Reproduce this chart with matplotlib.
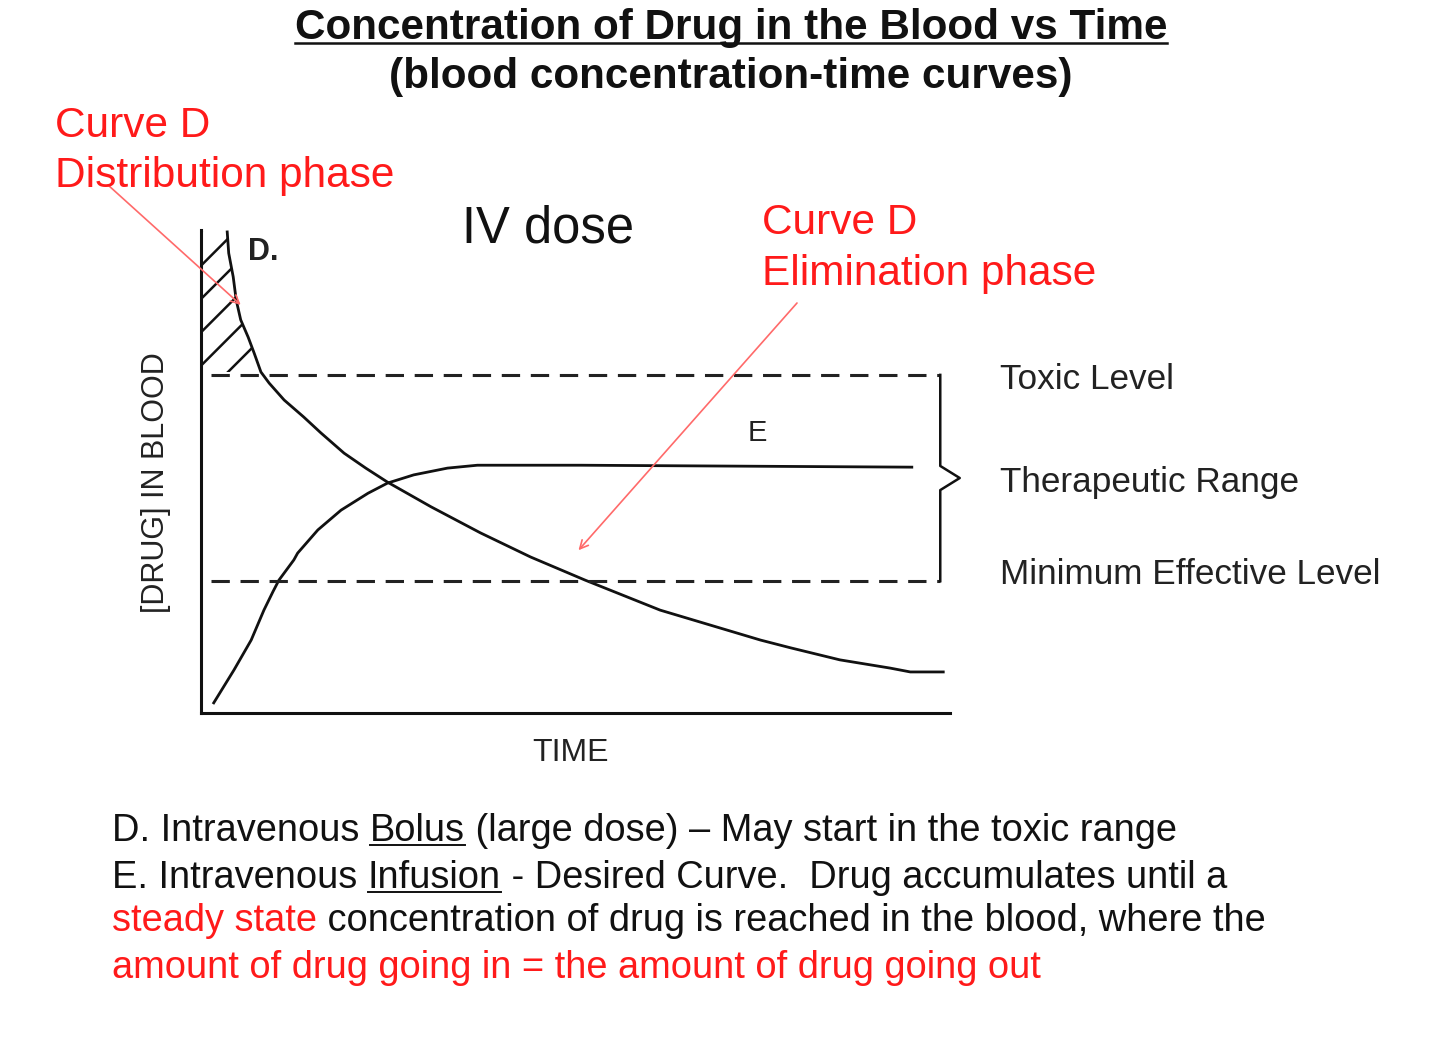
import matplotlib
matplotlib.use('Agg')
import matplotlib.pyplot as plt
from matplotlib.lines import Line2D

plt.rcParams['font.family'] = ['Liberation Sans', 'DejaVu Sans']
plt.rcParams['hatch.linewidth'] = 1.8

# ---- data (time and concentration, both in % of the axis range) ----
TOXIC = 70.0
MEC = 27.3

# curve D: IV bolus
d_time = [3.5, 3.7, 4.3, 4.7, 5.3, 6.3, 7.1, 8.0, 9.1, 11.1, 13.7, 16.0, 19.1, 22.0,
          24.9, 30.7, 37.3, 44.0, 51.3, 61.3, 68.0, 74.7, 78.7, 85.3, 92.0, 94.7, 99.1]
d_conc = [99.6, 95.2, 90.3, 85.5, 81.4, 77.8, 74.5, 70.6, 68.3, 64.8, 61.3, 58.0, 53.8, 50.7,
          47.8, 42.7, 37.3, 32.3, 27.5, 21.3, 18.2, 15.1, 13.5, 11.0, 9.3, 8.5, 8.5]

# curve E: IV infusion
e_time = [1.7, 4.4, 6.7, 8.4, 9.6, 10.4, 12.4, 12.9, 15.6, 18.7, 22.3, 24.9,
          28.4, 32.9, 36.9, 50.7, 94.9]
e_conc = [2.1, 8.9, 15.1, 21.3, 25.1, 27.5, 31.7, 33.1, 37.9, 42.0, 45.5, 47.6,
          49.3, 50.7, 51.3, 51.3, 50.9]

level_labels = ['Toxic Level', 'Therapeutic Range', 'Minimum Effective Level']
level_label_y = [69.0, 47.8, 28.6]

W, H, DPI = 1440, 1056, 100
RED = '#ff1a1a'
INK = '#111111'
GREY = '#222222'


def fx(x):
    return x / W


def fy(y):
    return 1 - y / H


fig = plt.figure(figsize=(W / DPI, H / DPI), dpi=DPI)
ax = fig.add_axes([fx(201), fy(713), 749 / W, 483 / H])
ax.set_xlim(0, 100)
ax.set_ylim(0, 100)
for side in ['top', 'right']:
    ax.spines[side].set_visible(False)
for side in ['left', 'bottom']:
    ax.spines[side].set_linewidth(2.2)
    ax.spines[side].set_color(INK)
ax.set_xticks([])
ax.set_yticks([])
ax.patch.set_alpha(0)

# hatched area: curve D above the toxic level
n_top = len([c for c in d_conc if c >= TOXIC])
ax.fill_betweenx(d_conc[:n_top], 0, d_time[:n_top], facecolor='none',
                 edgecolor=INK, hatch='/', linewidth=0)

ax.plot(d_time, d_conc, color=INK, lw=2.0)
ax.plot(e_time, e_conc, color=INK, lw=2.0)

# levels and bracket
BR = 98.7
for lev in [TOXIC, MEC]:
    ax.plot([1.3, BR], [lev, lev], color=GREY, lw=2.2, dashes=(6, 3.5))
mid = (TOXIC + MEC) / 2
ax.plot([BR, BR, BR + 2.6, BR, BR], [TOXIC, mid + 2.5, mid, mid - 2.5, MEC],
        color=INK, lw=1.8, clip_on=False)

for lab, y in zip(level_labels, level_label_y):
    ax.text(106.7, y, lab, fontsize=25.3, color=GREY, va='center', ha='left')

ax.text(6.3, 95.4, 'D.', fontsize=22, fontweight='bold', color=GREY, va='center')
ax.text(74.3, 58.0, 'E', fontsize=21, color=GREY, va='center', ha='center')
ax.text(46.3, 100.3, 'IV dose', fontsize=36.5, color=INK, va='center', ha='center')
ax.text(-6.0, 47.8, '[DRUG] IN BLOOD', fontsize=22, color=GREY,
        rotation=90, va='center', ha='center')
ax.text(49.3, -8.3, 'TIME', fontsize=23, color=GREY, va='center', ha='center')

# red annotations
arrow = dict(arrowstyle='->', color='#ff6a6a', lw=1.2, shrinkA=0, shrinkB=0,
             mutation_scale=15)
ax.annotate('', xy=(5.3, 84.5), xytext=(fx(108), fy(185)),
            textcoords='figure fraction', arrowprops=arrow)
ax.annotate('', xy=(50.4, 33.7), xytext=(fx(797), fy(303)),
            textcoords='figure fraction', arrowprops=arrow)

fig.text(fx(55), fy(137), 'Curve D', fontsize=30.5, color=RED, va='baseline')
fig.text(fx(55), fy(187), 'Distribution phase', fontsize=30.5, color=RED, va='baseline')
fig.text(fx(762), fy(234), 'Curve D', fontsize=30.5, color=RED, va='baseline')
fig.text(fx(762), fy(285), 'Elimination phase', fontsize=30.5, color=RED, va='baseline')

fig.canvas.draw()
renderer = fig.canvas.get_renderer()


def add_underline(t, yb, color, lw):
    # yb: baseline in image pixels (from top)
    bb = t.get_window_extent(renderer)
    yy = fy(yb + 4)
    fig.add_artist(Line2D([bb.x0 / W, bb.x1 / W], [yy, yy],
                          transform=fig.transFigure, color=color, lw=lw))


# titles
t1 = fig.text(0.5076, fy(39), 'Concentration of Drug in the Blood vs Time', fontsize=30.4,
              fontweight='bold', color=INK, ha='center', va='baseline')
add_underline(t1, 39, INK, 1.8)
fig.text(0.5076, fy(88), '(blood concentration-time curves)', fontsize=30.4,
         fontweight='bold', color=INK, ha='center', va='baseline')


def text_width(s, size):
    probe = fig.text(0, 0, s + 'I', fontsize=size)
    ref = fig.text(0, 0, 'I', fontsize=size)
    w = probe.get_window_extent(renderer).width - ref.get_window_extent(renderer).width
    probe.remove()
    ref.remove()
    return w


def text_line(x, yb, parts, size=27.4):
    prefix = ''
    for s, color, ul in parts:
        dx = text_width(prefix, size) if prefix else 0
        t = fig.text((x + dx) / W, fy(yb), s, fontsize=size, color=color, va='baseline')
        if ul:
            add_underline(t, yb, color, 1.4)
        prefix += s


text_line(112, 841, [('D. Intravenous ', INK, False), ('Bolus', INK, True),
                     (' (large dose) \u2013 May start in the toxic range', INK, False)])
text_line(112, 888, [('E. Intravenous ', INK, False), ('Infusion', INK, True),
                     (' - Desired Curve.  Drug accumulates until a', INK, False)])
text_line(112, 931, [('steady state', RED, False),
                     (' concentration of drug is reached in the blood, where the', INK, False)])
text_line(112, 978, [('amount of drug going in = the amount of drug going out', RED, False)])

fig.savefig('out.png', dpi=DPI, facecolor='white')
